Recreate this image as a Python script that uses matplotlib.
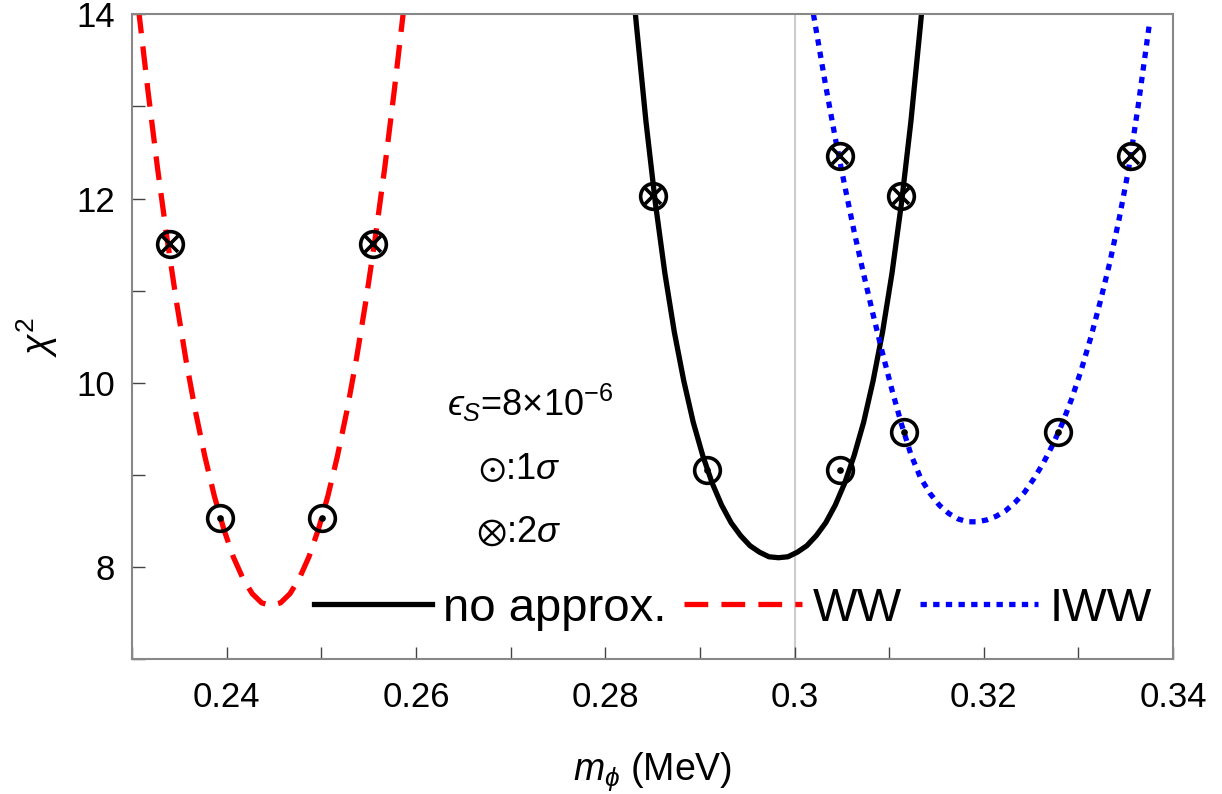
import matplotlib.pyplot as plt
import numpy as np

plt.rcParams['font.family'] = ['Liberation Sans', 'DejaVu Sans']
plt.rcParams['mathtext.fontset'] = 'custom'
plt.rcParams['mathtext.rm'] = 'Liberation Sans'
plt.rcParams['mathtext.it'] = 'Liberation Sans:italic'
plt.rcParams['mathtext.fallback'] = 'stixsans'

# curves: m_phi (MeV), chi^2
noapp_x = [0.2831, 0.2833, 0.2843, 0.2853, 0.2863, 0.2873, 0.2883, 0.2893, 0.2903,
           0.2913, 0.2923, 0.2933, 0.2943, 0.2953, 0.2963, 0.2973, 0.2983, 0.2993,
           0.3003, 0.3013, 0.3023, 0.3033, 0.3043, 0.3053, 0.3063, 0.3073, 0.3083,
           0.3093, 0.3103, 0.3113, 0.3123, 0.3133, 0.3135]
noapp_y = [14.1, 13.88, 12.84, 11.95, 11.19, 10.55, 10.02, 9.57, 9.21,
           8.91, 8.67, 8.48, 8.34, 8.23, 8.16, 8.11, 8.10, 8.11,
           8.16, 8.23, 8.34, 8.48, 8.67, 8.91, 9.21, 9.57, 10.02,
           10.55, 11.19, 11.95, 12.84, 13.88, 14.1]

ww_x = [0.2307, 0.2317, 0.2327, 0.2337, 0.2347, 0.2357, 0.2367, 0.2377, 0.2387,
        0.2397, 0.2407, 0.2417, 0.2427, 0.2437, 0.2447, 0.2457, 0.2467, 0.2477,
        0.2487, 0.2497, 0.2507, 0.2517, 0.2527, 0.2537, 0.2547, 0.2557, 0.2567,
        0.2577, 0.2587]
ww_y = [14.05, 13.16, 12.33, 11.57, 10.88, 10.25, 9.69, 9.20, 8.77,
        8.41, 8.11, 7.88, 7.71, 7.61, 7.58, 7.61, 7.71, 7.88,
        8.11, 8.41, 8.77, 9.20, 9.69, 10.25, 10.88, 11.57, 12.33,
        13.16, 14.05]

iww_x = [0.3020, 0.3023, 0.3033, 0.3043, 0.3053, 0.3063, 0.3073, 0.3083, 0.3093,
         0.3103, 0.3113, 0.3123, 0.3133, 0.3143, 0.3153, 0.3163, 0.3173, 0.3183,
         0.3193, 0.3203, 0.3213, 0.3223, 0.3233, 0.3243, 0.3253, 0.3263, 0.3273,
         0.3283, 0.3293, 0.3303, 0.3313, 0.3323, 0.3333, 0.3343, 0.3353, 0.3363,
         0.3375]
iww_y = [14.0, 13.82, 13.22, 12.66, 12.14, 11.64, 11.18, 10.74, 10.32,
         9.92, 9.55, 9.22, 8.97, 8.80, 8.67, 8.58, 8.52, 8.49,
         8.49, 8.51, 8.55, 8.61, 8.70, 8.81, 8.96, 9.13, 9.33,
         9.56, 9.83, 10.14, 10.49, 10.88, 11.30, 11.78, 12.32, 13.0,
         13.9]

# 1 sigma / 2 sigma points
s1_x = [0.2393, 0.2501, 0.2908, 0.3048, 0.3116, 0.3278]
s1_y = [8.53, 8.53, 9.05, 9.05, 9.46, 9.46]
s2_x = [0.2340, 0.2555, 0.2850, 0.3112, 0.3048, 0.3355]
s2_y = [11.51, 11.51, 12.03, 12.03, 12.46, 12.46]

fig = plt.figure(figsize=(12.22, 7.94), dpi=100)
ax = fig.add_axes([0.108, 0.170, 0.852, 0.812])

ax.axvline(0.3, color='#cccccc', lw=1.5, zorder=0)

ax.plot(noapp_x, noapp_y, 'k-', lw=3.8, label='no approx.')
ax.plot(ww_x, ww_y, color='#ff0000', lw=3.8, dashes=(4.5, 2.5), label='WW')
ax.plot(iww_x, iww_y, color='#0000ff', lw=3.8, dashes=(1.2, 1.2), label='IWW')

ax.plot(s1_x, s1_y, 'o', ms=18.5, mfc='none', mec='k', mew=2.6, zorder=5)
ax.plot(s1_x, s1_y, 'o', ms=3.8, color='k', zorder=5)
ax.plot(s2_x, s2_y, 'o', ms=18.5, mfc='none', mec='k', mew=2.6, zorder=5)
ax.plot(s2_x, s2_y, 'x', ms=12, mec='k', mew=2.6, zorder=5)

ax.text(0.2721, 9.78, '$\u03f5_S$=8$\\times$10$^{-6}$', fontsize=26, ha='center', va='center')
ax.text(0.2709, 9.06, r'$\odot$:1$\sigma$', fontsize=26, ha='center', va='center')
ax.text(0.2709, 8.38, r'$\otimes$:2$\sigma$', fontsize=26, ha='center', va='center')

ax.set_xlim(0.23, 0.34)
ax.set_ylim(7, 14)
ax.set_xticks([0.24, 0.26, 0.28, 0.3, 0.32, 0.34])
ax.set_xticklabels(['0.24', '0.26', '0.28', '0.3', '0.32', '0.34'])
ax.set_xticks(np.arange(0.23, 0.341, 0.01), minor=True)
ax.set_yticks([8, 10, 12, 14])
ax.set_yticks([7, 9, 11, 13], minor=True)
ax.tick_params(which='both', direction='in', length=9, width=1, color='#444444',
               labelsize=25)
ax.tick_params(axis='x', pad=16)
ax.tick_params(axis='y', pad=12)
for s in ax.spines.values():
    s.set_color('#888888')
    s.set_linewidth(1.5)

ax.set_xlabel(r'$m_\phi$ (MeV)', fontsize=27, labelpad=26)
ax.set_ylabel(r'$\chi^2$', fontsize=27, labelpad=12)

ax.legend(loc='center', bbox_to_anchor=(0.577, 0.078), ncol=3, frameon=False,
          fontsize=34, handlelength=2.5, handletextpad=0.23, columnspacing=0.38,
          borderpad=0)

fig.savefig('out.png', dpi=100)
